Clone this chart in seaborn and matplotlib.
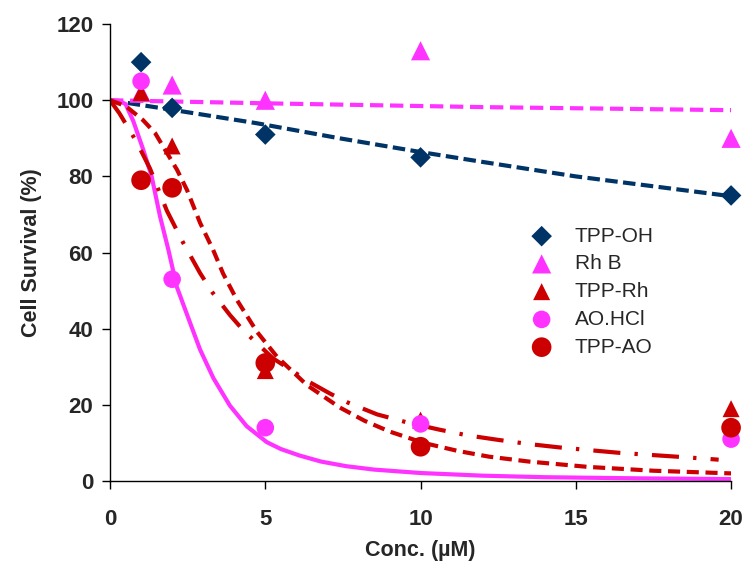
import matplotlib
matplotlib.use("Agg")
import matplotlib.pyplot as plt
import seaborn as sns

# measured points
conc = [1, 2, 5, 10, 20]
tpp_oh = [110, 98, 91, 85, 75]
rh_b = [102, 104, 100, 113, 90]
tpp_rh = [102, 88, 29, 16, 19]
ao_hcl = [105, 53, 14, 15, 11]
tpp_ao = [79, 77, 31, 9, 14]

# fitted curves
oh_fit_x = [0, 2, 4.7, 7.4, 10, 12, 15, 20]
oh_fit_y = [100, 97.5, 94, 90, 86.4, 83.8, 80, 74.8]

rhb_fit_x = [0, 5, 12, 20]
rhb_fit_y = [100, 99.2, 98.2, 97.4]

aohcl_fit_x = [0, 0.3, 0.5, 0.75, 1.07, 1.34, 1.61, 1.88, 2.15, 2.58, 2.9, 3.33,
               3.86, 4.4, 5.05, 5.5, 6.1, 6.8, 7.6, 8.5, 10, 12, 14, 17, 20]
aohcl_fit_y = [100, 99.8, 99.0, 94.5, 87, 80, 69.5, 60.7, 51, 41.5, 34.5, 27,
               19.8, 14.4, 10.2, 8.4, 6.7, 5.1, 3.9, 3.0, 2.1, 1.4, 1.0, 0.7, 0.5]

rh_fit_x = [0, 0.5, 1.06, 1.45, 2.16, 2.48, 2.9, 3.32, 3.64, 4.09, 4.73, 5.38,
            6.34, 7.4, 8.2, 9.0, 10.1, 11.2, 12.2, 13.5, 15.4, 17.5, 20]
rh_fit_y = [100, 98.5, 94.8, 91.4, 81.7, 76.4, 67.8, 60.7, 54.5, 47.5, 39.2, 32.6,
            25.2, 19.3, 15.8, 13.0, 10.0, 7.9, 6.4, 5.1, 3.7, 2.7, 2.0]

ao_fit_x = [0, 0.3, 0.86, 1.29, 1.83, 2.36, 2.9, 3.3, 3.86, 4.3, 5.25, 6.44,
            7.1, 7.66, 8.6, 9.56, 10.6, 11.5, 12.5, 13.5, 14.5, 16.4, 18.6, 19.6]
ao_fit_y = [100, 96.6, 89, 82, 71, 62.5, 54.6, 49.5, 43.6, 39.5, 32.2, 25.9,
            22.9, 20.6, 17.5, 15.4, 13.5, 12.0, 10.8, 9.7, 8.8, 7.4, 6.2, 5.6]

navy = "#003366"
magenta = "#FF33FF"
red = "#CC0000"

sns.set_style("ticks")
plt.rcParams['font.family'] = ['Liberation Sans', 'DejaVu Sans']

fig = plt.figure(figsize=(7.46, 5.74), dpi=100)
ax = fig.add_axes([0.1475, 0.162, 0.8325, 0.796])

# fit lines
sns.lineplot(x=oh_fit_x, y=oh_fit_y, ax=ax, color=navy, lw=3.0, linestyle=(0, (3.0, 1.3)))
sns.lineplot(x=rhb_fit_x, y=rhb_fit_y, ax=ax, color=magenta, lw=3.0, linestyle=(0, (3.2, 1.6)))
sns.lineplot(x=aohcl_fit_x, y=aohcl_fit_y, ax=ax, color=magenta, lw=3.0)
sns.lineplot(x=rh_fit_x, y=rh_fit_y, ax=ax, color=red, lw=3.0, linestyle=(0, (2.9, 1.6)))
sns.lineplot(x=ao_fit_x, y=ao_fit_y, ax=ax, color=red, lw=3.0,
             linestyle=(0, (6.5, 3.4, 0.8, 3.4)))

# points
pts = [(tpp_oh, navy, "D", 110, "TPP-OH"),
       (rh_b, magenta, "^", 190, "Rh B"),
       (tpp_rh, red, "^", 150, "TPP-Rh"),
       (ao_hcl, magenta, "o", 160, "AO.HCl"),
       (tpp_ao, red, "o", 200, "TPP-AO")]
for vals, col, mk, sz, name in pts:
    sns.scatterplot(x=conc, y=vals, ax=ax, color=col, marker=mk, s=sz,
                    edgecolor="none", label=name, clip_on=False, zorder=5)

ax.set_xlim(0, 20)
ax.set_ylim(0, 120)
ax.set_xticks([0, 5, 10, 15, 20])
ax.set_yticks([0, 20, 40, 60, 80, 100, 120])
ax.tick_params(direction="out", length=6, width=1, color="black", labelsize=16)
ax.tick_params(axis="y", pad=6)
ax.tick_params(axis="x", pad=14)
for lab in ax.get_xticklabels() + ax.get_yticklabels():
    lab.set_fontweight("bold")
ax.set_xlabel("Conc. (µM)", fontsize=15.5, fontweight="bold", labelpad=7)
ax.set_ylabel("Cell Survival (%)", fontsize=15.5, fontweight="bold", labelpad=10)

sns.despine(ax=ax)
for sp in ["left", "bottom"]:
    ax.spines[sp].set_color("black")
    ax.spines[sp].set_linewidth(1)

ax.legend(loc="upper left", bbox_to_anchor=(0.648, 0.575), frameon=False,
          fontsize=15, handletextpad=0.6, labelspacing=0.42, borderaxespad=0)

fig.savefig("out.png", dpi=100)
